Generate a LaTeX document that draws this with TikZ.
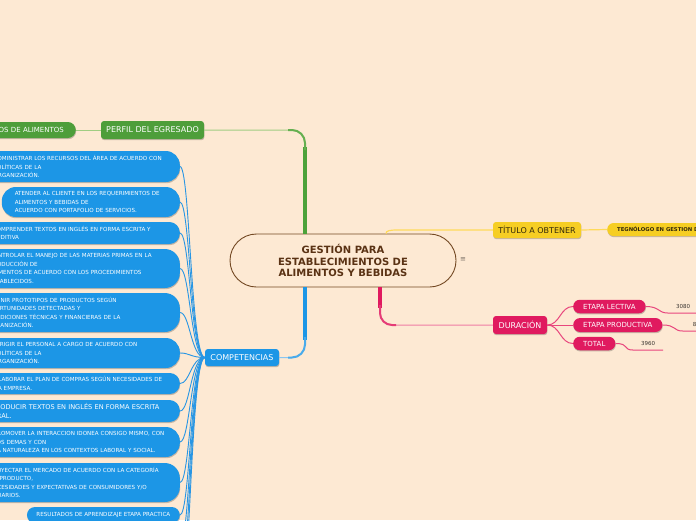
\documentclass[tikz,border=0pt]{standalone}
\usepackage{fontspec}
\setmainfont{DejaVu Sans}
\usetikzlibrary{shapes.misc,shadows}
\definecolor{bg}{RGB}{253,233,211}
\definecolor{gbox}{RGB}{78,158,58}
\definecolor{gthk}{RGB}{76,162,58}
\definecolor{glt}{RGB}{160,205,130}
\definecolor{bbox}{RGB}{28,150,230}
\definecolor{bln}{RGB}{40,150,228}
\definecolor{ybox}{RGB}{246,206,35}
\definecolor{yln}{RGB}{255,218,90}
\definecolor{ytx}{RGB}{50,40,10}
\definecolor{pbox}{RGB}{224,26,95}
\definecolor{pln}{RGB}{232,70,125}
\definecolor{brd}{RGB}{115,72,35}
\definecolor{btx}{RGB}{90,50,20}
\definecolor{numtx}{RGB}{60,55,50}
\newcommand\cl[1]{\mbox{#1}}
\begin{document}
\begin{tikzpicture}[x=1pt,y=-1pt,
  sh/.style={drop shadow={shadow xshift=0.4pt,shadow yshift=-1.2pt,opacity=0.22,fill=black}},
  cbox/.style={sh,fill=bbox,text=white,font=\fontsize{5.6}{8.5}\selectfont,align=left,
    inner xsep=13pt,inner ysep=0pt,anchor=east},
  mainbox/.style={sh,inner sep=0pt,rounded corners=3pt,font=\fontsize{8}{9}\selectfont},
  pill/.style={sh,inner ysep=0pt,inner xsep=10pt,anchor=west,fill=pbox,text=white,
    font=\fontsize{7}{8}\selectfont,minimum height=13.5pt,rounded corners=6.7pt},
  num/.style={inner sep=0pt,minimum width=30pt,minimum height=13pt,anchor=south,
    text=numtx,font=\fontsize{5.5}{6}\selectfont},
  bl/.style={draw=bln,line width=0.9pt},
  pl/.style={draw=pln,line width=1pt},
  gthin/.style={draw=glt,line width=1pt},
  thick4/.style={line width=4pt,line cap=butt},
  mid2/.style={line width=2pt,line cap=butt}]
\useasboundingbox (0,0) rectangle (696,520);
\fill[bg] (0,0) rectangle (696,520);
\clip (0,0) rectangle (696,520);

\coordinate (xg) at (305,0);
\coordinate (xp) at (380,0);
\coordinate (xy) at (386,0);

% central node
\node[rounded rectangle,draw=brd,line width=0.9pt,fill=bg,minimum width=226pt,minimum height=53pt,
  inner sep=0pt,align=center,text=btx,font=\fontsize{10}{11.6}\selectfont\bfseries] (c) at (343,260.5)
  {GESTIÓN PARA\\ESTABLECIMIENTOS DE\\ALIMENTOS Y BEBIDAS};
\node[text={rgb,255:red,120;green,110;blue,100},font=\fontsize{7}{8}\selectfont,inner sep=0pt] (menu) at (463,260) {≡};

% main branches
\node[mainbox,fill=gbox,text=white,minimum width=103pt,minimum height=18pt] (perf) at (152.5,130) {PERFIL DEL EGRESADO};
\node[sh,fill=gbox,text=white,font=\fontsize{7}{8}\selectfont,minimum height=16pt,inner ysep=0pt,inner xsep=12pt,
  rounded corners=8pt,anchor=east,text width=72pt,align=right] (alim) at (76,130) {OS DE ALIMENTOS};
\node[mainbox,fill=bbox,text=white,minimum width=74pt,minimum height=17pt] (comp) at (242,357.5) {COMPETENCIAS};
\node[mainbox,fill=ybox,text=ytx,minimum width=88pt,minimum height=16pt] (tit) at (537,230) {TÍTULO A OBTENER};
\node[sh,fill=ybox,text=ytx,font=\fontsize{5.3}{6}\selectfont\bfseries,minimum height=13pt,inner ysep=0pt,
  inner xsep=10pt,rounded corners=6.5pt,anchor=west] (tec) at (607,229.5) {TEGNÓLOGO EN GESTION DE};
\node[mainbox,fill=pbox,text=white,minimum width=54pt,minimum height=18pt] (dur) at (520,325) {DURACIÓN};

% duration children
\node[pill] (lect) at (573,306.5) {ETAPA LECTIVA};
\node[pill,minimum height=14pt,rounded corners=7pt] (prod) at (573,325) {ETAPA PRODUCTIVA};
\node[pill] (tot) at (573,343.5) {TOTAL};
\node[num] (n3080) at (683,313) {3080};
\node[num] (n880) at (698,331) {880};
\node[num] (n3960) at (648,350) {3960};

% connectors of main branches
\draw[gthin,rounded corners=13pt] (perf.east) -| (c.north -| xg);
\draw[gthk,thick4] (c.north -| xg) -- (305,147);
\draw[gthk!70!glt,mid2,rounded corners=13pt] (305,150) |- (288,130);
\draw[gthin] (perf.west) -- (alim.east);

\draw[bln!55!white,line width=1pt,rounded corners=13pt] (comp.east) -| (c.south -| xg);
\draw[bbox,thick4] (c.south -| xg) -- (305,340);
\draw[bbox!80!white,mid2,rounded corners=13pt] (305,337) |- (288,357.5);

\draw[pln!70!white,line width=1pt,rounded corners=12pt] (dur.west) -| (c.south -| xp);
\draw[pbox,thick4] (c.south -| xp) -- (380,308);
\draw[pbox!85!white,mid2,rounded corners=12pt] (380,305) |- (396,325);

\draw[yln,line width=1.2pt] (c.north -| xy) .. controls +(0,-3) and +(-8,0) .. (398,230) -- (tit.west);
\draw[yln,line width=1.2pt] (tit.east) -- (tec.west);

% duration connectors
\foreach \k in {lect,prod,tot} \draw[pl] (dur.east) .. controls +(13,0) and +(-13,0) .. (\k.west);
\draw[pl] (lect.east) .. controls +(14,0) and +(-10,0) .. (n3080.south west) -- (n3080.south east);
\draw[pl] (prod.east) .. controls +(14,0) and +(-10,0) .. (n880.south west) -- (n880.south east);
\draw[pl] (tot.east) .. controls +(14,0) and +(-10,0) .. (n3960.south west) -- (n3960.south east);

% competencias children
\node[cbox,text width=173pt,minimum height=31pt,rounded corners=14pt] (k1) at (180,166.5)
  {\cl{ADMINISTRAR LOS RECURSOS DEL ÁREA DE ACUERDO CON}\\\cl{POLÍTICAS DE LA}\\\cl{ORGANIZACIÓN.}};
\node[cbox,text width=152pt,minimum height=30pt,rounded corners=14pt] (k2) at (180,202)
  {\cl{ATENDER AL CLIENTE EN LOS REQUERIMIENTOS DE}\\\cl{ALIMENTOS Y BEBIDAS DE}\\\cl{ACUERDO CON PORTAFOLIO DE SERVICIOS.}};
\node[cbox,text width=174pt,minimum height=22pt,rounded corners=10.5pt] (k3) at (180,233)
  {\cl{COMPRENDER TEXTOS EN INGLÉS EN FORMA ESCRITA Y}\\\cl{AUDITIVA}};
\node[cbox,text width=177pt,minimum height=39pt,rounded corners=15pt] (k4) at (180,268.5)
  {\cl{CONTROLAR EL MANEJO DE LAS MATERIAS PRIMAS EN LA}\\\cl{PRODUCCIÓN DE}\\\cl{ALIMENTOS DE ACUERDO CON LOS PROCEDIMIENTOS}\\\cl{ESTABLECIDOS.}};
\node[cbox,text width=179pt,minimum height=39pt,rounded corners=15pt] (k5) at (180,312.5)
  {\cl{DEFINIR PROTOTIPOS DE PRODUCTOS SEGÚN}\\\cl{OPORTUNIDADES DETECTADAS Y}\\\cl{CONDICIONES TÉCNICAS Y FINANCIERAS DE LA}\\\cl{ORGANIZACIÓN.}};
\node[cbox,text width=173pt,minimum height=30pt,rounded corners=14pt] (k6) at (180,353)
  {\cl{DIRIGIR EL PERSONAL A CARGO DE ACUERDO CON}\\\cl{POLÍTICAS DE LA}\\\cl{ORGANIZACIÓN.}};
\node[cbox,text width=172pt,minimum height=21pt,rounded corners=10pt] (k7) at (180,383.5)
  {\cl{ELABORAR EL PLAN DE COMPRAS SEGÚN NECESIDADES DE}\\\cl{LA EMPRESA.}};
\node[cbox,text width=175pt,minimum height=22pt,rounded corners=10.5pt,font=\fontsize{6.6}{9}\selectfont] (k8) at (180,411)
  {\cl{PRODUCIR TEXTOS EN INGLÉS EN FORMA ESCRITA}\\\cl{ORAL.}};
\node[cbox,text width=173pt,minimum height=30pt,rounded corners=14pt] (k9) at (180,442)
  {\cl{PROMOVER LA INTERACCION IDONEA CONSIGO MISMO, CON}\\\cl{LOS DEMAS Y CON}\\\cl{LA NATURALEZA EN LOS CONTEXTOS LABORAL Y SOCIAL.}};
\node[cbox,text width=177pt,minimum height=39pt,rounded corners=15pt] (k10) at (180,482.5)
  {\cl{PROYECTAR EL MERCADO DE ACUERDO CON LA CATEGORÍA}\\\cl{DE PRODUCTO,}\\\cl{NECESIDADES Y EXPECTATIVAS DE CONSUMIDORES Y/O}\\\cl{USUARIOS.}};
\node[cbox,inner xsep=9.5pt,minimum height=16pt,rounded corners=8pt] (k11) at (180,515)
  {RESULTADOS DE APRENDIZAJE ETAPA PRACTICA};
\coordinate (k12) at (180,545);
\coordinate (k13) at (180,575);
\coordinate (k14) at (180,605);

\foreach \k in {k1,k2,k3,k4,k5,k6,k7,k8,k9,k10,k11,k12,k13,k14}
  \draw[bl] (comp.west) .. controls +(-14,0) and +(10,0) .. (\k.east);
\end{tikzpicture}
\end{document}
